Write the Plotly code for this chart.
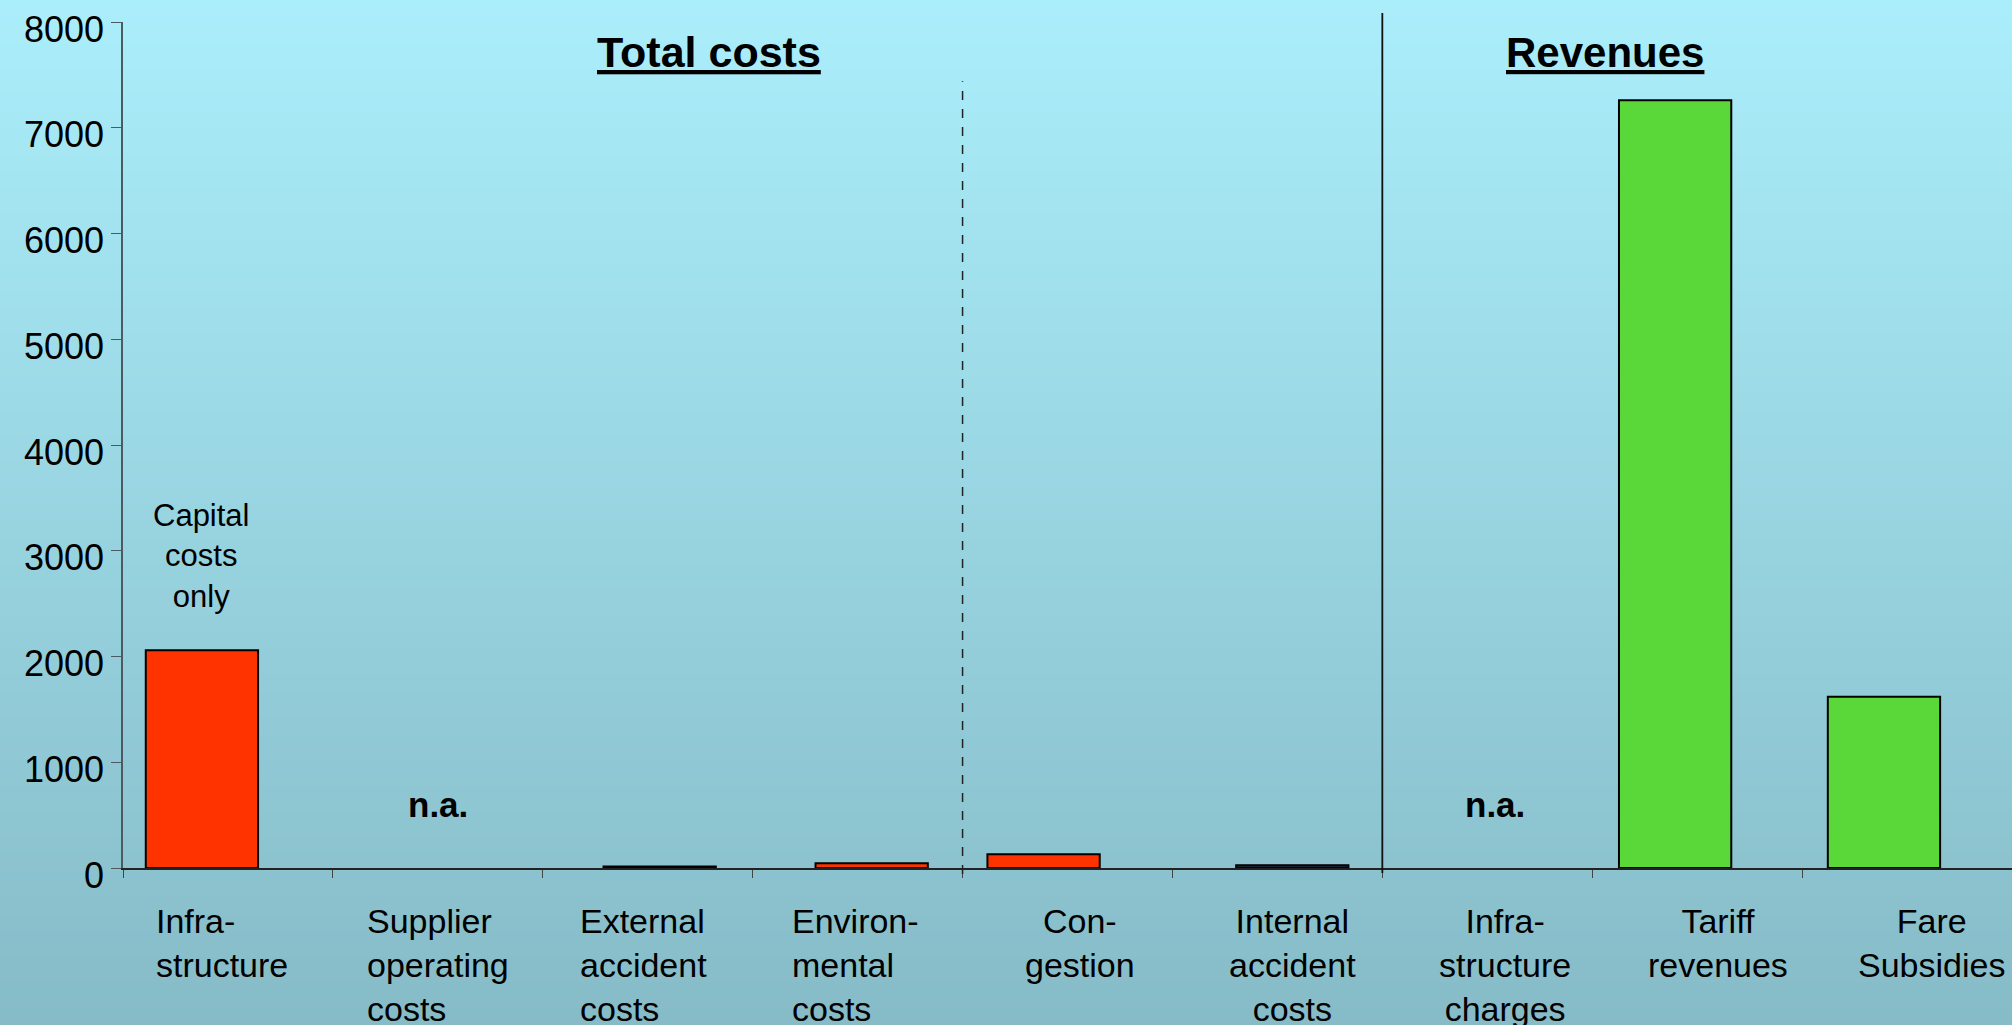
import plotly.graph_objects as go

# ---------------- data ----------------
categories = ["Infrastructure", "Supplier operating costs", "External accident costs",
              "Environmental costs", "Congestion", "Internal accident costs",
              "Infrastructure charges", "Tariff revenues", "Fare Subsidies"]
tick_labels = ["Infra-<br>structure", "Supplier<br>operating<br>costs", "External<br>accident<br>costs",
               "Environ-<br>mental<br>costs", "Con-<br>gestion", "Internal<br>accident<br>costs",
               "Infra-<br>structure<br>charges", "Tariff<br>revenues", "Fare<br>Subsidies"]
values = [2060, None, 15, 45, 130, 25, None, 7260, 1620]   # None = n.a.
groups = ["cost", "cost", "cost", "cost", "cost", "cost", "revenue", "revenue", "revenue"]
y_ticks = [0, 1000, 2000, 3000, 4000, 5000, 6000, 7000, 8000]

# ---------------- styles ----------------
FONT = "Arial, Liberation Sans, sans-serif"
RED = "#FF3300"
GREEN = "#5AD83A"
bar_colors = [RED if g == "cost" else GREEN for g in groups]
bar_colors[5] = "#263046"
BAR_W = 0.535
# small horizontal nudges of the hand-placed bars in the original (category units)
bar_nudge = [-0.124, 0, 0.057, 0.067, -0.114, 0.071, 0, -0.105, -0.110]
label_align = ["left", "left", "left", "left", "center", "center", "center", "center", "center"]
label_xshift = [-6, 0, -4, -2, 12, 15, 18, 21, 24]
na_xshift = [0, 0, 0, 0, 0, 0, 8, 0, 0]

W, H = 2012, 1025
ML, MR, MT, MB = 123, 0, 22, 157
plot_h = H - MT - MB

fig = go.Figure()
fig.add_trace(go.Bar(
    x=categories, y=values, width=BAR_W,
    offset=[-BAR_W / 2 + d for d in bar_nudge],
    marker=dict(color=bar_colors, line=dict(color="black", width=2)),
    hoverinfo="x+y", showlegend=False,
))

# ---- background gradient ----
top_c = (171, 238, 251)
bot_c = (134, 187, 199)
shapes = []
n = 120
for i in range(n):
    py0 = H * i / n
    py1 = H * (i + 1) / n + 1
    t = (i + 0.5) / n
    c = tuple(round(top_c[k] + (bot_c[k] - top_c[k]) * t) for k in range(3))
    shapes.append(dict(type="rect", xref="paper", yref="paper", layer="below",
                       x0=-ML / (W - ML - MR) - 0.01, x1=1.02,
                       y0=(H - MB - py1) / plot_h, y1=(H - MB - py0) / plot_h,
                       line=dict(width=0), fillcolor="rgb(%d,%d,%d)" % c))

# separators
shapes.append(dict(type="line", xref="x", yref="paper", x0=3.5, x1=3.5,
                   y0=-0.007, y1=0.93, line=dict(color="#222", width=1.5, dash="dash")))
shapes.append(dict(type="line", xref="x", yref="paper", x0=5.5, x1=5.5,
                   y0=-0.006, y1=1.0106, line=dict(color="#111", width=1.8)))

annotations = []
# category labels
for cat, lab, al, xs in zip(categories, tick_labels, label_align, label_xshift):
    annotations.append(dict(x=cat, xref="x", y=0, yref="paper", yanchor="top", xanchor="center",
                            yshift=-32, xshift=xs, text=lab, align=al, showarrow=False,
                            font=dict(family=FONT, size=34, color="black")))
# n.a. markers
for cat, v, xs in zip(categories, values, na_xshift):
    if v is None:
        annotations.append(dict(x=cat, xref="x", y=600, yref="y", text="<b>n.a.</b>",
                                showarrow=False, xshift=xs, xanchor="center", yanchor="middle",
                                font=dict(family=FONT, size=35, color="black")))
# group titles
annotations.append(dict(x=(709 - ML) / (W - ML), xref="paper", y=0.9645, yref="paper",
                        xanchor="center", yanchor="middle",
                        text="<b><u>Total costs</u></b>", showarrow=False,
                        font=dict(family=FONT, size=43, color="black")))
annotations.append(dict(x=(1605 - ML) / (W - ML), xref="paper", y=0.9645, yref="paper",
                        xanchor="center", yanchor="middle",
                        text="<b><u>Revenues</u></b>", showarrow=False,
                        font=dict(family=FONT, size=42, color="black")))
# note on first bar
annotations.append(dict(x=categories[0], xref="x", xshift=-26, y=0.369, yref="paper",
                        xanchor="center", yanchor="middle",
                        text="Capital<br>costs<br>only", showarrow=False, align="center",
                        font=dict(family=FONT, size=31, color="black")))

fig.update_layout(
    width=W, height=H,
    margin=dict(l=ML, r=MR, t=MT, b=MB, pad=0),
    paper_bgcolor="rgba(0,0,0,0)", plot_bgcolor="rgba(0,0,0,0)",
    shapes=shapes, annotations=annotations,
    xaxis=dict(type="category", range=[-0.5, 8.5], showticklabels=False,
               showline=True, linecolor="#222", linewidth=1.5,
               ticks="outside", tickson="boundaries", ticklen=8, tickcolor="#444",
               showgrid=False, zeroline=False, fixedrange=True),
    yaxis=dict(range=[0, 8000], tickvals=y_ticks, ticktext=[str(v) for v in y_ticks],
               showline=True, linecolor="#4a5c62", linewidth=1.5,
               ticks="outside", ticklen=10, tickcolor="#4a5c62",
               showgrid=False, zeroline=False,
               tickfont=dict(family=FONT, size=36, color="black"),
               ticklabelstandoff=0, ticklabelshift=7, ticklabeloverflow="allow",
               fixedrange=True),
)

fig.write_html("out.html")
